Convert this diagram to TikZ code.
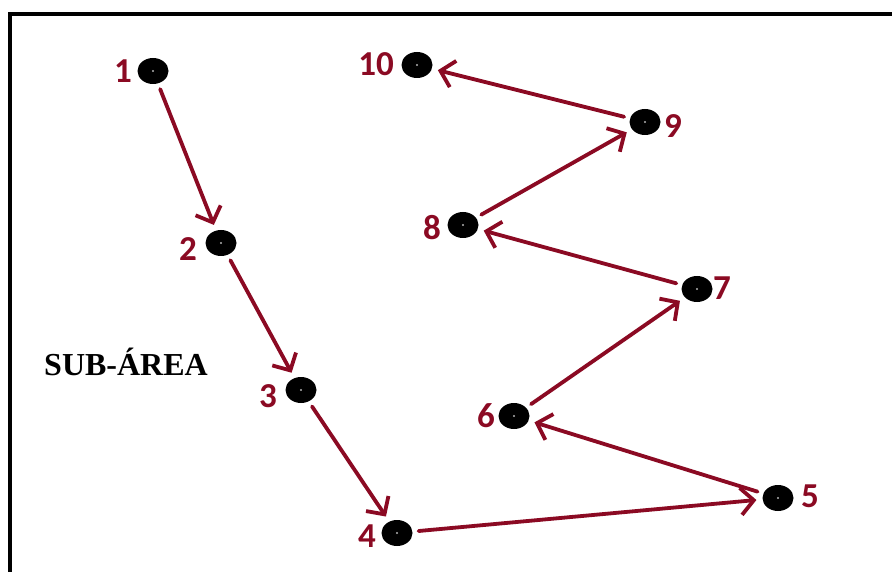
\documentclass[tikz,border=0pt]{standalone}
\usepackage{fontspec}
\setmainfont{Liberation Serif}
\newfontfamily\labelfont{Carlito}
\usetikzlibrary{arrows.meta,shapes.geometric}
\definecolor{route}{RGB}{139,10,35}
\tikzset{
  spot/.style={ellipse, fill=black, minimum width=31pt, minimum height=26pt, inner sep=0pt,
    path picture={\fill[gray!60] (path picture bounding box.center) circle (1.2pt);}},
  num/.style={text=route, font=\labelfont\bfseries\fontsize{35}{40}\selectfont, inner sep=0pt},
  hop/.style={draw=route, line width=3.8pt, line cap=round,
    -{Straight Barb[length=13pt,width=27pt,line width=3.8pt]},
    shorten <=6pt, shorten >=6pt}
}
\begin{document}
\begin{tikzpicture}[x=1pt,y=-1pt]
\useasboundingbox (0,0) rectangle (892,572);
\fill[white] (0,0) rectangle (892,572);
% open frame along the left and top
\draw[line width=4pt] (10,572) -- (10,14) -- (892,14);

% stops
\node[spot] (d1) at (153,71) {};
\node[spot] (d2) at (221,243) {};
\node[spot] (d3) at (301,390) {};
\node[spot] (d4) at (397,533) {};
\node[spot] (d5) at (778,498) {};
\node[spot] (d6) at (514,416) {};
\node[spot] (d7) at (697,289) {};
\node[spot] (d8) at (463,225) {};
\node[spot] (d9) at (645,122) {};
\node[spot] (d10) at (417,65) {};

% stop numbers
\node[num] (n1) at (123,71) {1};
\node[num] (n2) at (188,249) {2};
\node[num] (n3) at (268,396) {3};
\node[num] (n4) at (367,536) {4};
\node[num] (n5) at (810,496) {5};
\node[num] (n6) at (486,416) {6};
\node[num] (n7) at (722,288) {7};
\node[num] (n8) at (432,228) {8};
\node[num] (n9) at (673,126) {9};
\node[num] (n10) at (376,64) {10};

\node[font=\bfseries\fontsize{32}{38}\selectfont, inner sep=0pt] (area) at (126,362) {SUB-ÁREA};

% route
\draw[hop] (d1) -- (d2);
\draw[hop] (d2) -- (d3);
\draw[hop] (d3) -- (d4);
\draw[hop] (d4) -- (d5);
\draw[hop] (d5) -- (d6);
\draw[hop] (d6) -- (d7);
\draw[hop] (d7) -- (d8);
\draw[hop] (d8) -- (d9);
\draw[hop] (d9) -- (d10);
\end{tikzpicture}
\end{document}
